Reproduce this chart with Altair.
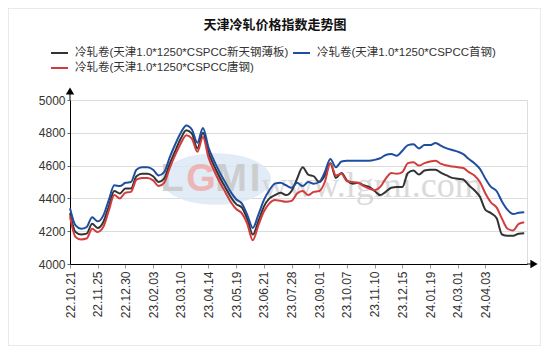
import altair as alt
import pandas as pd

TITLE = "天津冷轧价格指数走势图"
SERIES = [
    "冷轧卷(天津1.0*1250*CSPCC新天钢薄板)",
    "冷轧卷(天津1.0*1250*CSPCC首钢)",
    "冷轧卷(天津1.0*1250*CSPCC唐钢)",
]
COLORS = ["#333333", "#1f4ea0", "#d23c3c"]

TICK_LABELS = ["22.10.21", "22.11.25", "22.12.30", "23.02.03", "23.03.10", "23.04.14",
               "23.05.19", "23.06.21", "23.07.28", "23.09.01", "23.10.07", "23.11.10",
               "23.12.15", "24.01.19", "24.03.01", "24.04.03"]
TICK_STEP = 5  # weekly points, one label every 5 weeks

XIN_TIAN = [4310, 4195, 4180, 4185, 4245, 4220, 4255, 4350, 4445, 4430,
            4460, 4460, 4535, 4550, 4550, 4535, 4500, 4520, 4610, 4690,
            4765, 4815, 4795, 4705, 4800, 4680, 4600, 4530, 4470, 4410,
            4365, 4345, 4275, 4180, 4260, 4350, 4400, 4420, 4435, 4420,
            4445, 4520, 4590, 4545, 4535, 4500, 4540, 4615, 4525, 4555,
            4510, 4490, 4495, 4480, 4470, 4445, 4420, 4440, 4465, 4470,
            4470, 4555, 4570, 4545, 4570, 4575, 4575, 4555, 4540, 4525,
            4520, 4515, 4480, 4450, 4410, 4330, 4310, 4280, 4180, 4172,
            4172, 4185, 4188]
SHOU_GANG = [4340, 4235, 4215, 4225, 4285, 4260, 4295, 4390, 4480, 4475,
             4495, 4500, 4575, 4590, 4590, 4575, 4540, 4560, 4650, 4730,
             4800, 4845, 4820, 4740, 4830, 4710, 4630, 4560, 4500, 4440,
             4395, 4370, 4300, 4220, 4300, 4390, 4450, 4490, 4495, 4480,
             4465, 4495, 4475, 4500, 4490, 4500, 4560, 4640, 4590, 4625,
             4630, 4630, 4630, 4630, 4630, 4635, 4645, 4665, 4670, 4660,
             4690, 4725, 4730, 4705, 4725, 4725, 4738, 4720, 4705, 4695,
             4685, 4670, 4640, 4615, 4580, 4520, 4470, 4445, 4380, 4330,
             4305, 4312, 4315]
TANG_GANG = [4290, 4165, 4150, 4155, 4215, 4195, 4225, 4325, 4420, 4400,
             4435, 4440, 4515, 4525, 4525, 4510, 4475, 4495, 4585, 4665,
             4735, 4785, 4765, 4685, 4775, 4650, 4570, 4500, 4440, 4380,
             4335, 4310, 4245, 4145, 4235, 4320, 4370, 4390, 4385, 4380,
             4385, 4430, 4445, 4420, 4440, 4445, 4500, 4615, 4540, 4550,
             4505, 4500, 4495, 4475, 4460, 4450, 4470, 4520, 4555, 4550,
             4560, 4615, 4620, 4600, 4615, 4625, 4630, 4610, 4600, 4595,
             4590, 4585, 4560, 4540, 4500, 4430, 4375, 4345, 4275, 4215,
             4205, 4245, 4255]

Y_TICKS = [4000, 4200, 4400, 4600, 4800, 5000]

rows = []
for name, vals in zip(SERIES, [XIN_TIAN, SHOU_GANG, TANG_GANG]):
    for i, v in enumerate(vals):
        rows.append({"i": i, "v": v, "s": name})
df = pd.DataFrame(rows)

W, H = 457, 164
FONT = "Liberation Sans, Noto Sans CJK SC, sans-serif"
one = pd.DataFrame({"a": [0]})

label_expr = "[" + ",".join(f"'{t}'" for t in TICK_LABELS) + f"][round(datum.value/{TICK_STEP})]"

x_enc = alt.X("i:Q", scale=alt.Scale(domain=[0, 82.5], nice=False, zero=False),
              axis=alt.Axis(values=[k * TICK_STEP for k in range(len(TICK_LABELS))],
                            labelExpr=label_expr, labelAngle=-90, grid=False,
                            domainColor="#000000", tickColor="#999999", tickSize=4,
                            labelFontSize=12, labelColor="#333333", labelFont=FONT,
                            labelPadding=3, title=None))
y_enc = alt.Y("v:Q", scale=alt.Scale(domain=[4000, 5000], nice=False, zero=False),
              axis=alt.Axis(values=Y_TICKS, format="d", grid=True, gridColor="#dcdcdc",
                            domainColor="#000000", tickColor="#666666", tickSize=3,
                            labelFontSize=12, labelColor="#333333", labelFont=FONT,
                            labelPadding=2, title=None))

frame = alt.Chart(one).mark_rect(fillOpacity=0, stroke="#d6d6d6", strokeWidth=1).encode(
    x=alt.value(-62), x2=alt.value(471), y=alt.value(-92), y2=alt.value(246))

# watermark
ellipse = alt.Chart(one).mark_point(
    shape="M-1,0 A1,0.47 0 1,1 1,0 A1,0.47 0 1,1 -1,0 Z",
    filled=True, color="#dbe7f4", opacity=0.8, size=12100).encode(
    x=alt.value(146), y=alt.value(79))
wm_letters = []
for ch, xx, col in [("L", 102, "#c8c8c8"), ("G", 131, "#f0acac"), ("M", 161, "#c8c8c8"), ("I", 185, "#c8c8c8")]:
    wm_letters.append(alt.Chart(one).mark_text(
        text=ch, font="Liberation Sans", fontSize=38, fontWeight="bold", color=col,
        opacity=0.85).encode(x=alt.value(xx), y=alt.value(80)))
wm_url = alt.Chart(one).mark_text(
    text="www.lgmi.com", font="Liberation Serif", fontSize=36, color="#d2d2d2",
    opacity=0.8).encode(x=alt.value(302), y=alt.value(86))

lines = alt.Chart(df).mark_line(strokeWidth=2, interpolate="monotone").encode(
    x=x_enc, y=y_enc,
    color=alt.Color("s:N", scale=alt.Scale(domain=SERIES, range=COLORS), legend=None),
    order=alt.Order("i:Q"))

# axis arrows
y_ext = alt.Chart(one).mark_rule(color="#000000", strokeWidth=1).encode(
    x=alt.value(0), y=alt.value(-6), y2=alt.value(0))
y_arrow = alt.Chart(one).mark_point(shape="triangle-up", filled=True, color="#000000",
                                    size=70, opacity=1).encode(x=alt.value(0), y=alt.value(-9))
x_ext = alt.Chart(one).mark_rule(color="#000000", strokeWidth=1).encode(
    x=alt.value(W), x2=alt.value(W + 4), y=alt.value(H))
x_arrow = alt.Chart(one).mark_point(shape="triangle-right", filled=True, color="#000000",
                                    size=70, opacity=1).encode(x=alt.value(W + 7), y=alt.value(H))

title = alt.Chart(one).mark_text(
    text=TITLE, font="Noto Sans CJK SC", fontSize=13, fontWeight="bold", color="#111111",
    baseline="middle", align="center").encode(x=alt.value(205), y=alt.value(-75))

legend_layers = []
for name, col, lx, ly in [(SERIES[0], COLORS[0], -19, -47),
                          (SERIES[1], COLORS[1], 223, -47),
                          (SERIES[2], COLORS[2], -19, -32)]:
    legend_layers.append(alt.Chart(one).mark_rule(color=col, strokeWidth=2).encode(
        x=alt.value(lx), x2=alt.value(lx + 17), y=alt.value(ly)))
    legend_layers.append(alt.Chart(one).mark_text(
        text=name, font=FONT, fontSize=11.5, color="#333333", align="left",
        baseline="middle").encode(x=alt.value(lx + 24), y=alt.value(ly)))

chart = alt.layer(
    frame, ellipse, *wm_letters, wm_url, lines, y_ext, y_arrow, x_ext, x_arrow, title,
    *legend_layers
).properties(
    width=W, height=H,
    padding={"left": 62, "top": 92, "right": 14, "bottom": 82},
    autosize=alt.AutoSizeParams(type="none"),
).configure_view(stroke=None).configure(background="white")

chart.save("out.html", embed_options={"renderer": "svg", "actions": False})
